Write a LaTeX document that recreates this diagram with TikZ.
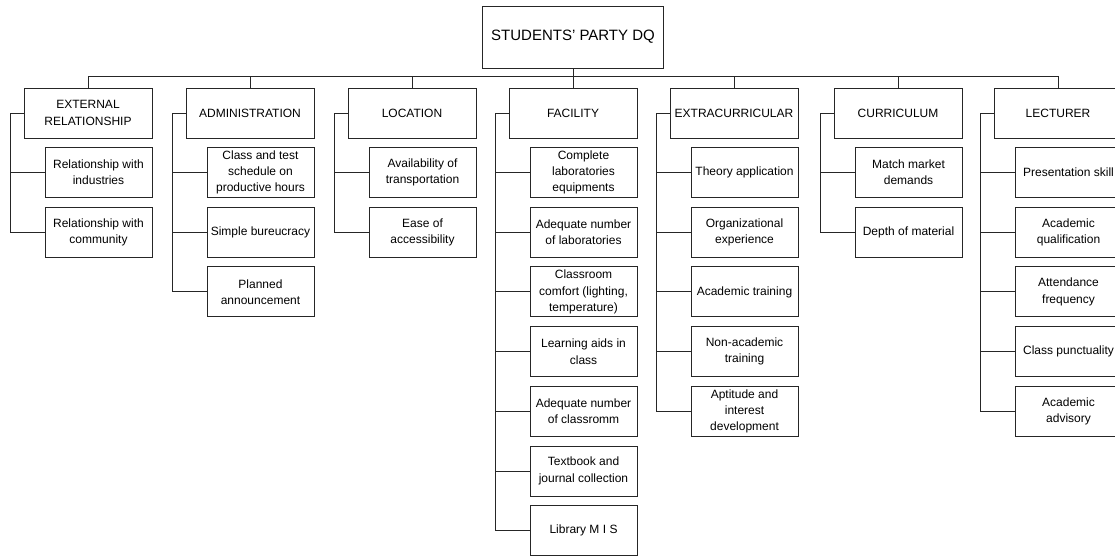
\documentclass[tikz,border=0pt]{standalone}
\usepackage{fontspec}
\setmainfont{Liberation Sans}
\tikzset{
  every picture/.style={x=1pt,y=-1pt},
  wire/.style={draw=black!85,line width=0.9pt},
  box/.style={draw=black!85,line width=0.9pt,fill=white,align=center,inner sep=1pt,
    font=\fontsize{12}{16.3}\selectfont},
  rootbox/.style={box,minimum width=181pt,minimum height=62pt,font=\fontsize{15}{18}\selectfont},
  catbox/.style={box,minimum width=128pt,minimum height=50pt},
  itembox/.style={box,minimum width=107pt,minimum height=50pt},
}
\begin{document}
\begin{tikzpicture}
\useasboundingbox (0,0) rectangle (1115,557);

% top node and category row
\node[rootbox] (root) at (573,37) {STUDENTS' PARTY DQ};
\node[catbox] (ext) at (88,113) {EXTERNAL\\RELATIONSHIP};
\node[catbox] (adm) at (250,113) {ADMINISTRATION};
\node[catbox] (loc) at (412,113) {LOCATION};
\node[catbox] (fac) at (573,113) {FACILITY};
\node[catbox] (xtr) at (734,113) {EXTRACURRICULAR};
\node[catbox] (cur) at (898,113) {CURRICULUM};
\node[catbox] (lec) at (1058,113) {LECTURER};

% bus linking the top node to every category
\coordinate (busL) at (88,76);
\coordinate (busR) at (1058,76);
\draw[wire] (busL) -- (busR);
\draw[wire] (root.south) -- (root.south |- busL);
\foreach \c in {ext,adm,loc,fac,xtr,cur,lec}
  \draw[wire] (\c.north) -- (\c.north |- busL);

% items, one column per category
\def\ya{172.5}\def\yb{232.2}\def\yc{291.9}\def\yd{351.6}\def\ye{411.3}\def\yf{471}\def\yg{530.7}

\node[itembox] (ext1) at (98.5,\ya) {Relationship with\\industries};
\node[itembox] (ext2) at (98.5,\yb) {Relationship with\\community};

\node[itembox] (adm1) at (260.5,\ya) {Class and test\\schedule on\\productive hours};
\node[itembox] (adm2) at (260.5,\yb) {Simple bureucracy};
\node[itembox] (adm3) at (260.5,\yc) {Planned\\announcement};

\node[itembox] (loc1) at (422.5,\ya) {Availability of\\transportation};
\node[itembox] (loc2) at (422.5,\yb) {Ease of\\accessibility};

\node[itembox] (fac1) at (583.5,\ya) {Complete\\laboratories\\equipments};
\node[itembox] (fac2) at (583.5,\yb) {Adequate number\\of laboratories};
\node[itembox] (fac3) at (583.5,\yc) {Classroom\\comfort (lighting,\\temperature)};
\node[itembox] (fac4) at (583.5,\yd) {Learning aids in\\class};
\node[itembox] (fac5) at (583.5,\ye) {Adequate number\\of classromm};
\node[itembox] (fac6) at (583.5,\yf) {Textbook and\\journal collection};
\node[itembox] (fac7) at (583.5,\yg) {Library M I S};

\node[itembox] (xtr1) at (744.5,\ya) {Theory application};
\node[itembox] (xtr2) at (744.5,\yb) {Organizational\\experience};
\node[itembox] (xtr3) at (744.5,\yc) {Academic training};
\node[itembox] (xtr4) at (744.5,\yd) {Non-academic\\training};
\node[itembox] (xtr5) at (744.5,\ye) {Aptitude and\\interest\\development};

\node[itembox] (cur1) at (908.5,\ya) {Match market\\demands};
\node[itembox] (cur2) at (908.5,\yb) {Depth of material};

\node[itembox] (lec1) at (1068.5,\ya) {Presentation skill};
\node[itembox] (lec2) at (1068.5,\yb) {Academic\\qualification};
\node[itembox] (lec3) at (1068.5,\yc) {Attendance\\frequency};
\node[itembox] (lec4) at (1068.5,\yd) {Class punctuality};
\node[itembox] (lec5) at (1068.5,\ye) {Academic\\advisory};

% left-hand brackets from each category down to its items
\foreach \c/\n in {ext/2,adm/3,loc/2,fac/7,xtr/5,cur/2,lec/5}{
  \draw[wire] (\c.west) -- ++(-13,0) coordinate (\c-spine) |- (\c\n.west);
  \foreach \k in {1,...,\n}
    \draw[wire] (\c-spine |- \c\k.west) -- (\c\k.west);
}
\end{tikzpicture}
\end{document}
